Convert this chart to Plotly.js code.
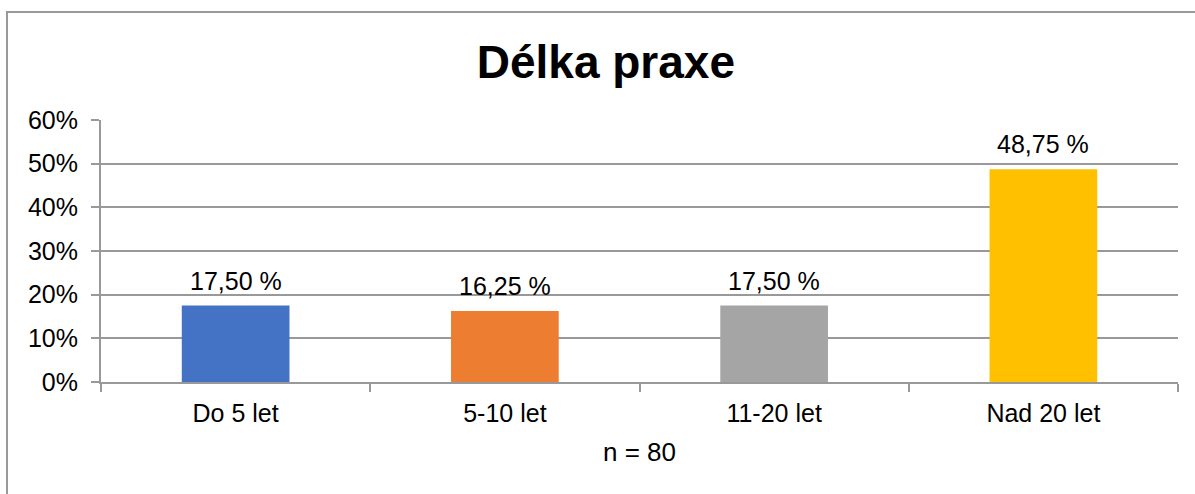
<!DOCTYPE html>
<html>
<head>
<meta charset="utf-8">
<script src="https://cdn.plot.ly/plotly-3.0.1.min.js"></script>
<style>html,body{margin:0;padding:0;background:#fff;overflow:hidden}#c{width:1195px;height:494px}</style>
</head>
<body>
<div id="c"></div>
<script>
const categories = ["Do 5 let", "5-10 let", "11-20 let", "Nad 20 let"];
const values = [0.175, 0.1625, 0.175, 0.4875];
const colors = ["#4472C4", "#ED7D31", "#A5A5A5", "#FFC000"];
const labels = values.map(v => (v * 100).toFixed(2).replace(".", ",") + " %");

const font = {family: "Liberation Sans, Arial, sans-serif", color: "#000"};
const grid = "#999999";

const trace = {
  type: "bar",
  x: categories,
  y: values,
  marker: {color: colors},
  hoverinfo: "skip"
};

const annotations = categories.map((c, i) => ({
  x: c, y: values[i], xref: "x", yref: "y",
  text: labels[i], showarrow: false, yanchor: "bottom", yshift: 9,
  font: Object.assign({}, font, {size: 25})
}));

const layout = {
  width: 1195, height: 494,
  margin: {l: 101, r: 17, t: 120, b: 112},
  paper_bgcolor: "#fff", plot_bgcolor: "#fff",
  font: font,
  bargap: 0.6,
  showlegend: false,
  title: {text: "<b>Délka praxe</b>", x: 0.507, xanchor: "center", xref: "container",
          y: 0.874, yanchor: "middle", yref: "container",
          font: Object.assign({}, font, {size: 46})},
  xaxis: {
    type: "category",
    showgrid: false, showline: true, linecolor: grid, linewidth: 2,
    ticks: "outside", tickson: "boundaries", ticklen: 8, tickcolor: grid, tickwidth: 2,
    ticklabelstandoff: 8,
    tickfont: Object.assign({}, font, {size: 25}),
    title: {text: "n = 80", font: Object.assign({}, font, {size: 26}), standoff: 17},
    fixedrange: true
  },
  yaxis: {
    range: [0, 0.6], dtick: 0.1, tickformat: ".0%",
    showgrid: true, gridcolor: grid, gridwidth: 2,
    showline: true, linecolor: grid, linewidth: 2,
    ticks: "outside", ticklen: 8, tickcolor: grid, tickwidth: 2,
    ticklabelstandoff: 8,
    tickfont: Object.assign({}, font, {size: 25}),
    zeroline: false, fixedrange: true
  },
  annotations: annotations,
  shapes: [{
    type: "rect", xref: "paper", yref: "paper",
    x0: (7 - 101) / 1077, x1: (1210 - 101) / 1077,
    y0: (382 - 510) / 262, y1: (382 - 12) / 262,
    line: {color: "#999", width: 2}, fillcolor: "rgba(0,0,0,0)", layer: "below"
  }]
};

Plotly.newPlot("c", [trace], layout, {displayModeBar: false, staticPlot: true});
</script>
</body>
</html>
